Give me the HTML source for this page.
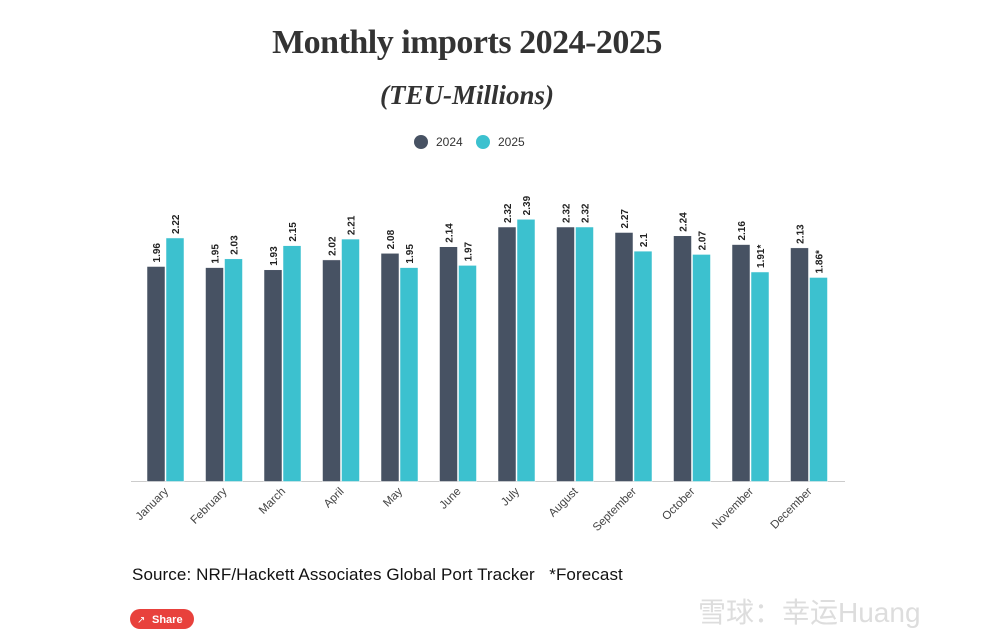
<!DOCTYPE html>
<html><head><meta charset="utf-8"><style>
body{margin:0;background:#fff;width:984px;height:640px;overflow:hidden;font-family:"Liberation Sans",sans-serif;}
.t{position:absolute;left:0;width:934px;text-align:center;font-family:"Liberation Serif",serif;color:#333;}
</style></head><body>
<div class="t" style="top:24px;font-size:34px;font-weight:bold;letter-spacing:-0.5px">Monthly imports 2024-2025</div>
<div class="t" style="top:80px;font-size:27px;font-weight:bold;font-style:italic">(TEU-Millions)</div>
<svg width="984" height="640" style="position:absolute;left:0;top:0" id="chart">
<g>
<circle cx="421" cy="142" r="7" fill="#475263"/>
<text x="436" y="146" font-size="12" fill="#333" font-family="Liberation Sans,sans-serif">2024</text>
<circle cx="483" cy="142" r="7" fill="#3cc1cf"/>
<text x="498" y="146" font-size="12" fill="#333" font-family="Liberation Sans,sans-serif">2025</text>
</g>
<line x1="131" y1="481.5" x2="845" y2="481.5" stroke="#ccc" stroke-width="1"/>
<g id="bars"></g>
<text x="132" y="580" font-size="17" letter-spacing="0.1" fill="#111" font-family="Liberation Sans,sans-serif">Source: NRF/Hackett Associates Global Port Tracker &#160;&#160;*Forecast</text>
<g>
<rect x="130" y="609" width="64" height="20" rx="10" fill="#e8413c"/>
<text x="152" y="623" font-size="11" fill="#fff" font-weight="bold" font-family="Liberation Sans,sans-serif">Share</text>
<text x="137" y="623" font-size="10" fill="#fff">↗</text>
</g>
<text x="698" y="622" font-size="28" fill="#ddd" font-family="Liberation Sans,Noto Sans CJK SC,sans-serif">雪球：幸运Huang</text>
</svg>
<script>
const months=["January","February","March","April","May","June","July","August","September","October","November","December"];
const values2024=[1.96,1.95,1.93,2.02,2.08,2.14,2.32,2.32,2.27,2.24,2.16,2.13];
const values2025=[2.22,2.03,2.15,2.21,1.95,1.97,2.39,2.32,2.1,2.07,1.91,1.86];
const labels2025=["2.22","2.03","2.15","2.21","1.95","1.97","2.39","2.32","2.1","2.07","1.91*","1.86*"];
const NS="http://www.w3.org/2000/svg";
const g=document.getElementById('bars');
const y0=481.5,k=109.7;
function yScale(v){return y0-v*k;}
function xScale(i){return 147+i*58.5;}
function mk(t,a){const e=document.createElementNS(NS,t);for(const n in a)e.setAttribute(n,a[n]);g.appendChild(e);return e;}
months.forEach((m,i)=>{
  const x=xScale(i);
  [[values2024[i],String(values2024[i]),"#475263",x,"2024"],[values2025[i],labels2025[i],"#3cc1cf",x+19,"2025"]].forEach(([v,l,c,bx,s])=>{
    const r=mk('rect',{x:bx,y:yScale(v),width:18,height:y0-yScale(v),fill:c,stroke:"#fff","stroke-width":0.5});
    
    
    const tx=bx+13,ty=yScale(v)-4;
    const t=mk('text',{x:tx,y:ty,transform:`rotate(-90 ${tx} ${ty})`,"font-size":10,"font-weight":"bold",fill:"#222","font-family":"Liberation Sans,sans-serif"});
    t.textContent=l;
    
    
  });
  const cx=x+22,cy=492;
  const t=mk('text',{x:cx,y:cy,transform:`rotate(-45 ${cx} ${cy})`,"text-anchor":"end","font-size":11.5,fill:"#444","font-family":"Liberation Sans,sans-serif"});
  t.textContent=m;
  
  
});
</script>
</body></html>
